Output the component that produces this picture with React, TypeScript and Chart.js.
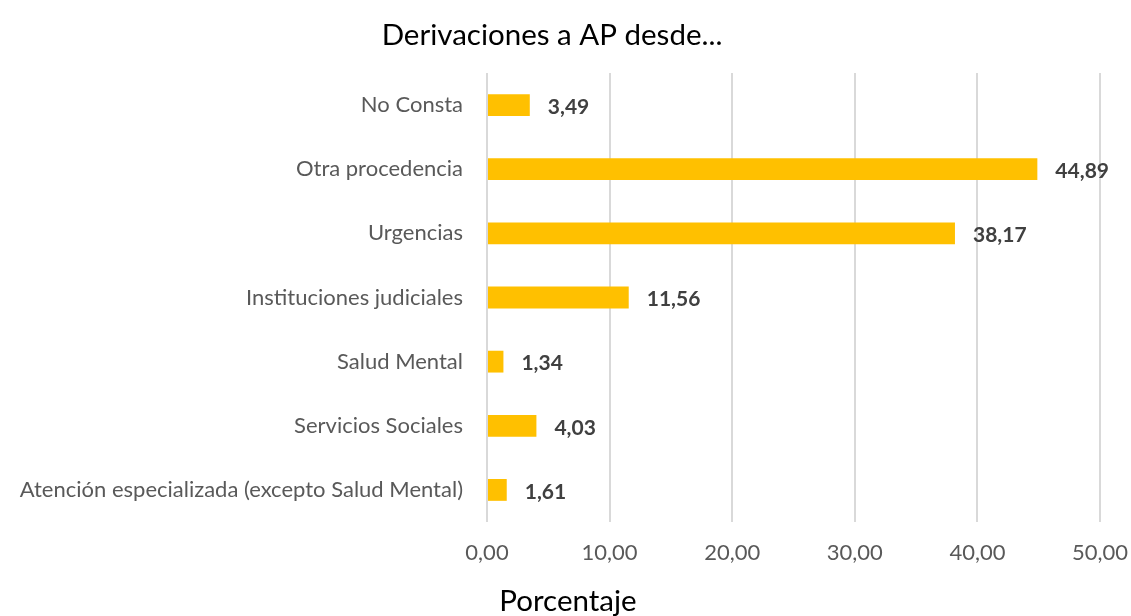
import React, { useEffect, useRef } from "react";
import { Chart, registerables } from "chart.js";

Chart.register(...registerables);

const categories = [
  "No Consta",
  "Otra procedencia",
  "Urgencias",
  "Instituciones judiciales",
  "Salud Mental",
  "Servicios Sociales",
  "Atención especializada (excepto Salud Mental)",
];
const values = [3.49, 44.89, 38.17, 11.56, 1.34, 4.03, 1.61];
const chartTitle = "Derivaciones a AP desde...";
const xAxisTitle = "Porcentaje";
const xMin = 0;
const xMax = 50;
const xStep = 10;

const FONT = "Lato, 'Open Sans', sans-serif";
const fmt = (v: number) => v.toFixed(2).replace(".", ",");

const textPlugin = {
  id: "textPlugin",
  afterDatasetsDraw(chart: any) {
    const ctx = chart.ctx;
    const meta = chart.getDatasetMeta(0);
    ctx.save();
    ctx.font = `bold 21px ${FONT}`;
    ctx.fillStyle = "#404040";
    ctx.textAlign = "left";
    ctx.textBaseline = "middle";
    meta.data.forEach((bar: any, i: number) => {
      ctx.fillText(fmt(values[i]), bar.x + 18, bar.y + 2);
    });
    ctx.restore();
  },
  afterDraw(chart: any) {
    const ctx = chart.ctx;
    ctx.save();
    ctx.fillStyle = "#000000";
    ctx.textAlign = "center";
    ctx.textBaseline = "middle";
    ctx.font = `29.5px ${FONT}`;
    ctx.fillText(chartTitle, 552, 35);
    ctx.fillText(xAxisTitle, 568, 601);
    ctx.restore();
  },
};

export default function App() {
  const ref = useRef<HTMLCanvasElement>(null);
  useEffect(() => {
    if (!ref.current) return;
    const chart = new Chart(ref.current, {
      type: "bar",
      data: {
        labels: categories,
        datasets: [
          {
            data: values,
            backgroundColor: "#FFC000",
            borderWidth: 0,
            barPercentage: 0.34,
            categoryPercentage: 1,
          },
        ],
      },
      options: {
        indexAxis: "y",
        animation: false,
        responsive: false,
        maintainAspectRatio: false,
        layout: { padding: { top: 73, right: 31, bottom: 0, left: 0 } },
        plugins: {
          legend: { display: false },
          title: { display: false },
          tooltip: { enabled: false },
        },
        scales: {
          x: {
            min: xMin,
            max: xMax,
            afterFit: (s: any) => {
              s.height = 94;
              s.paddingLeft = 0;
              s.paddingRight = 0;
            },
            ticks: {
              stepSize: xStep,
              padding: 18,
              color: "#595959",
              font: { family: FONT, size: 22 },
              callback: (v: any) => fmt(Number(v)),
            },
            grid: { color: "#d9d9d9", lineWidth: 2, drawTicks: false },
            border: { display: false },
          },
          y: {
            afterFit: (s: any) => {
              s.width = 487;
              s.paddingTop = 0;
              s.paddingBottom = 0;
            },
            ticks: {
              padding: 24,
              color: "#595959",
              font: { family: FONT, size: 22 },
            },
            grid: { display: false, drawTicks: false },
            border: { display: false },
          },
        },
      },
      plugins: [textPlugin],
    });
    return () => chart.destroy();
  }, []);
  return (
    <div style={{ position: "absolute", left: 0, top: 0, width: 1131, height: 616, background: "#fff" }}>
      <canvas ref={ref} width={1131} height={616} style={{ width: 1131, height: 616 }} />
    </div>
  );
}
